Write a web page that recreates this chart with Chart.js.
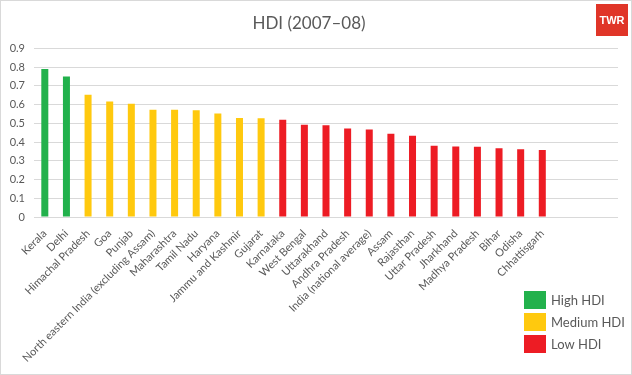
<!DOCTYPE html>
<html>
<head>
<meta charset="utf-8">
<script src="https://cdn.jsdelivr.net/npm/chart.js@4/dist/chart.umd.min.js"></script>
<style>
  html, body { margin: 0; padding: 0; background: #fff; }
  canvas { display: block; }
</style>
</head>
<body>
<canvas id="hdi-chart" width="632" height="375"></canvas>
<script>
// HDI by state, 2007-08

const categories = [
    'Kerala', 'Delhi', 'Himachal Pradesh', 'Goa', 'Punjab',
    'North eastern India (excluding Assam)', 'Maharashtra', 'Tamil Nadu',
    'Haryana', 'Jammu and Kashmir', 'Gujarat', 'Karnataka', 'West Bengal',
    'Uttarakhand', 'Andhra Pradesh', 'India (national average)', 'Assam',
    'Rajasthan', 'Uttar Pradesh', 'Jharkhand', 'Madhya Pradesh', 'Bihar',
    'Odisha', 'Chhattisgarh'
];
const hdiValues = [
    0.790, 0.750, 0.652, 0.617, 0.605,
    0.573, 0.572, 0.570,
    0.552, 0.529, 0.527, 0.519, 0.492,
    0.490, 0.473, 0.467, 0.444,
    0.434, 0.380, 0.376, 0.375, 0.367,
    0.362, 0.358
];
// 0 = high, 1 = medium, 2 = low
const hdiTier = [
    0, 0, 1, 1, 1,
    1, 1, 1,
    1, 1, 1, 2, 2,
    2, 2, 2, 2,
    2, 2, 2, 2, 2,
    2, 2
];
const tierNames = ['High HDI', 'Medium HDI', 'Low HDI'];
const tierColors = ['#22b14c', '#ffc90e', '#ed1c24'];
const emptySlots = 3;   // the original leaves room on the right

const labels = categories.concat(Array(emptySlots).fill(''));
const GREY = '#595959';
const FONT = "Lato, 'Open Sans', sans-serif";

const decorations = {
    id: 'decorations',
    afterDraw(chart) {
        const { ctx } = chart;
        ctx.save();

        // outer frame
        ctx.strokeStyle = '#d9d9d9';
        ctx.lineWidth = 1;
        ctx.strokeRect(0.5, 0.5, chart.width - 1, chart.height - 1);

        // TWR badge
        ctx.fillStyle = '#e03528';
        ctx.fillRect(596, 4, 32, 32);
        ctx.fillStyle = '#fff';
        ctx.font = "bold 11px 'Liberation Sans', Arial, sans-serif";
        ctx.textAlign = 'center';
        ctx.textBaseline = 'middle';
        ctx.fillText('TWR', 612, 20.5);

        // legend
        ctx.textAlign = 'left';
        ctx.font = '13px ' + FONT;
        tierNames.forEach((name, i) => {
            const y = 291 + i * 22;
            ctx.fillStyle = tierColors[i];
            ctx.fillRect(524, y, 22, 18);
            ctx.fillStyle = GREY;
            ctx.fillText(name, 551, y + 9.5);
        });
        ctx.restore();
    }
};

new Chart(document.getElementById('hdi-chart'), {
    type: 'bar',
    data: {
        labels,
        datasets: [{
            label: 'HDI',
            data: hdiValues,
            backgroundColor: hdiTier.map(t => tierColors[t]),
            barPercentage: 0.324,
            categoryPercentage: 1,
        }]
    },
    options: {
        responsive: false,
        animation: false,
        layout: { padding: { top: 0, left: 0, right: 14, bottom: 0 } },
        plugins: {
            legend: { display: false },
            tooltip: { enabled: false },
            title: {
                display: true,
                text: 'HDI (2007–08)',
                color: GREY,
                font: { family: FONT, size: 17, weight: 'normal' },
                padding: { top: 13, bottom: 15 }
            }
        },
        scales: {
            y: {
                min: 0, max: 0.9,
                ticks: {
                    stepSize: 0.1,
                    color: GREY,
                    padding: 9,
                    font: { family: FONT, size: 11 },
                    callback: v => v === 0 ? '0' : v.toFixed(1)
                },
                grid: { color: '#d9d9d9', drawTicks: false },
                border: { display: false },
                afterFit(scale) { scale.width = 34; }
            },
            x: {
                ticks: {
                    color: GREY,
                    minRotation: 45,
                    maxRotation: 45,
                    autoSkip: false,
                    padding: 2,
                    font: { family: FONT, size: 11 }
                },
                grid: { display: false },
                border: { display: false },
                afterFit(scale) { scale.height = 158; }
            }
        }
    },
    plugins: [decorations]
});
</script>
</body>
</html>
